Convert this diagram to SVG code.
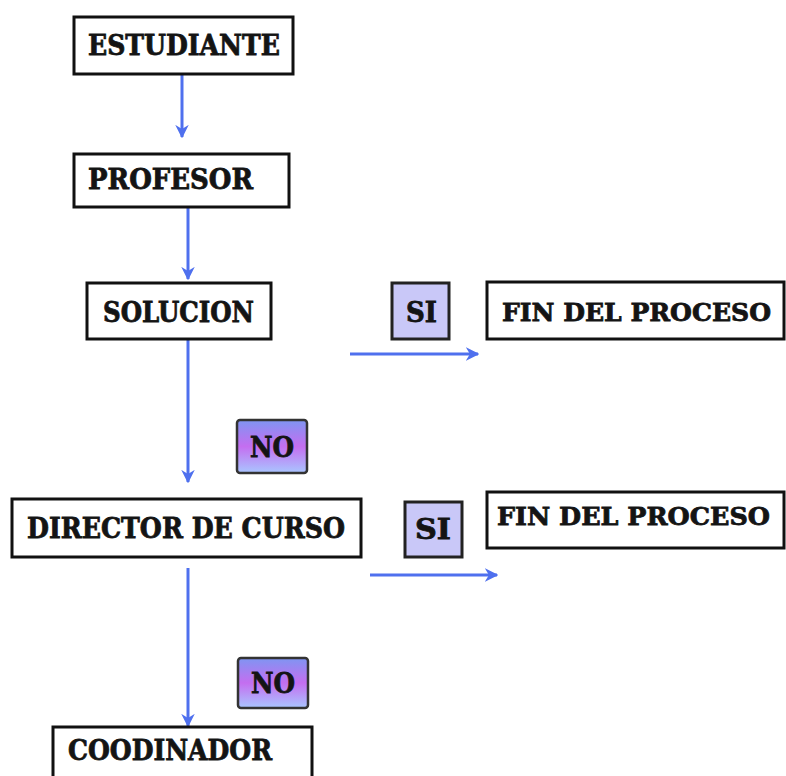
<svg xmlns="http://www.w3.org/2000/svg" width="786" height="776" viewBox="0 0 786 776">
<defs>
<style>
.box{fill:#ffffff;stroke:#111;stroke-width:3}
.si{fill:#c9c8f8;stroke:#222;stroke-width:3}
.no{fill:url(#nog);stroke:#333;stroke-width:2.5}
.t{font-family:"DejaVu Serif","Liberation Serif",serif;font-weight:bold;font-size:27px;fill:#141414;stroke:#141414;stroke-width:0.8}
.f{font-size:25px}
.c{stroke:#4f70ee;stroke-width:3;fill:none;marker-end:url(#ah)}
</style>
<linearGradient id="nog" x1="0" y1="0" x2="0" y2="1">
<stop offset="0" stop-color="#7f95f2"/>
<stop offset="0.5" stop-color="#c46ef0"/>
<stop offset="1" stop-color="#a9c6ff"/>
</linearGradient>
<marker id="ah" viewBox="0 0 10 10" refX="9" refY="5" markerWidth="4.5" markerHeight="4.5" orient="auto" markerUnits="strokeWidth">
<path d="M0,0 L10,5 L0,10 L3,5 Z" fill="#4f70ee"/>
</marker>
</defs>
<rect width="786" height="776" fill="#ffffff"/>
<g id="connectors">
<line class="c" x1="182" y1="75" x2="182" y2="137"/>
<line class="c" x1="188" y1="208" x2="188" y2="279"/>
<line class="c" x1="188" y1="340" x2="188" y2="482"/>
<line class="c" x1="188" y1="568" x2="188" y2="726"/>
<line class="c" x1="350" y1="354" x2="478" y2="354"/>
<line class="c" x1="370" y1="575" x2="497" y2="575"/>
</g>
<g id="estudiante">
<rect class="box" x="74" y="17" width="219" height="57"/>
<text class="t" x="88" y="55" textLength="192" lengthAdjust="spacingAndGlyphs">ESTUDIANTE</text>
</g>
<g id="profesor">
<rect class="box" x="74" y="154" width="215" height="53"/>
<text class="t" x="88" y="189" textLength="165" lengthAdjust="spacingAndGlyphs">PROFESOR</text>
</g>
<g id="solucion">
<rect class="box" x="87" y="283" width="184" height="56"/>
<text class="t" x="103" y="322" textLength="151" lengthAdjust="spacingAndGlyphs">SOLUCION</text>
</g>
<g id="si1">
<rect class="si" x="392" y="283" width="57" height="56"/>
<text class="t" x="406" y="322" textLength="31" lengthAdjust="spacingAndGlyphs">SI</text>
</g>
<g id="fin1">
<rect class="box" x="487" y="282" width="297" height="57"/>
<text class="t f" x="502" y="321" textLength="269" lengthAdjust="spacingAndGlyphs">FIN DEL PROCESO</text>
</g>
<g id="no1">
<rect class="no" x="237" y="420" width="70" height="53" rx="3"/>
<text class="t" x="250" y="457" textLength="44" lengthAdjust="spacingAndGlyphs">NO</text>
</g>
<g id="director">
<rect class="box" x="12" y="499" width="349" height="58"/>
<text class="t" x="27" y="538" textLength="318" lengthAdjust="spacingAndGlyphs">DIRECTOR DE CURSO</text>
</g>
<g id="si2">
<rect class="si" x="405" y="502" width="57" height="55"/>
<text class="t" x="415" y="539" textLength="36" lengthAdjust="spacingAndGlyphs">SI</text>
</g>
<g id="fin2">
<rect class="box" x="487" y="492" width="297" height="56"/>
<text class="t f" x="497" y="525" textLength="273" lengthAdjust="spacingAndGlyphs">FIN DEL PROCESO</text>
</g>
<g id="no2">
<rect class="no" x="238" y="658" width="70" height="50" rx="3"/>
<text class="t" x="251" y="693" textLength="44" lengthAdjust="spacingAndGlyphs">NO</text>
</g>
<g id="coodinador">
<rect class="box" x="53" y="727" width="259" height="70"/>
<text class="t" x="68" y="760" textLength="204" lengthAdjust="spacingAndGlyphs">COODINADOR</text>
</g>
</svg>
